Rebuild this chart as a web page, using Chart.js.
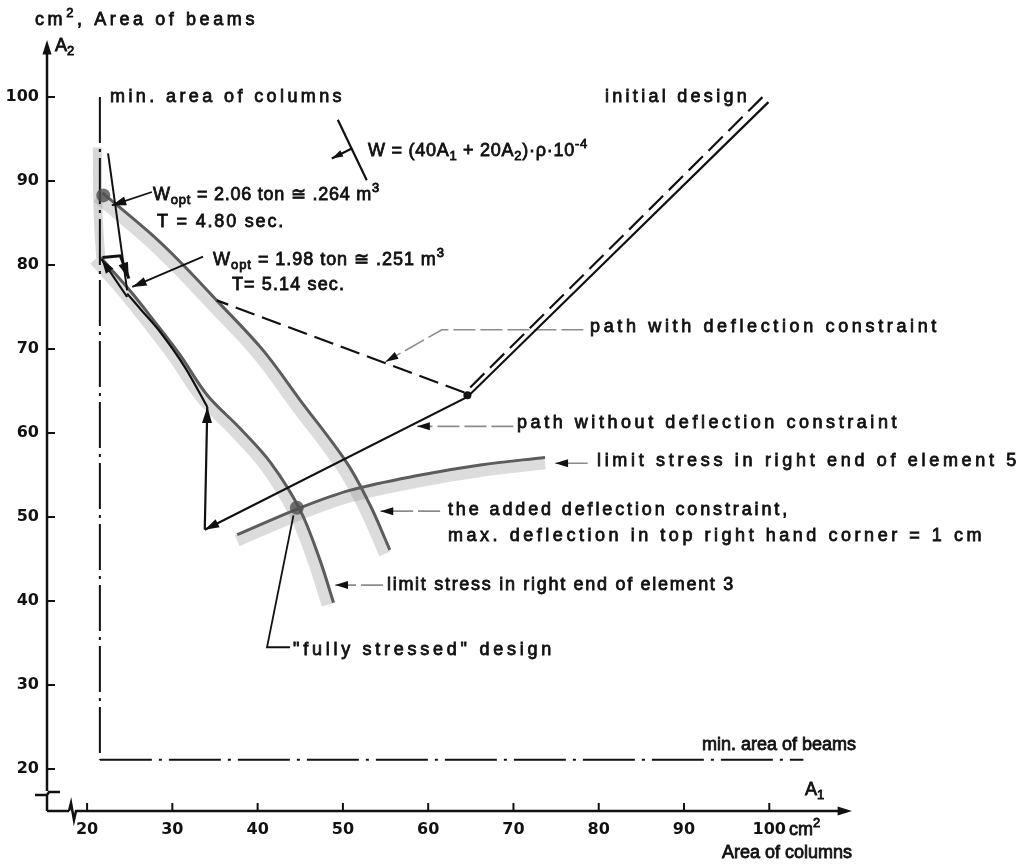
<!DOCTYPE html>
<html>
<head>
<meta charset="utf-8">
<script src="https://cdn.jsdelivr.net/npm/chart.js@4"></script>
<style>
  body { margin: 0; background: #fff; }
  #wrap { width: 1031px; height: 864px; }
</style>
</head>
<body>
<div id="wrap"><canvas id="designChart"></canvas></div>
<script>
// Axis ticks
const xTicks = [20, 30, 40, 50, 60, 70, 80, 90, 100];
const yTicks = [20, 30, 40, 50, 60, 70, 80, 90, 100];

// Constraint curves (A1 = area of columns, A2 = area of beams)
const stress3TopA1 = [21.2, 21.3, 21.6];
const stress3TopA2 = [94.0, 86.0, 80.9];
const stress3A1 = [21.6, 25.0, 28.2, 30.9, 34.1, 37.9, 41.5, 45.0, 47.3, 48.9];
const stress3A2 = [80.9, 77.0, 72.9, 69.3, 64.5, 60.6, 56.5, 50.8, 44.9, 39.8];
const deflA1 = [21.8, 27.4, 30.9, 35.2, 40.6, 45.0, 50.5, 53.2, 55.5];
const deflA2 = [88.6, 83.8, 80.4, 75.8, 69.9, 63.9, 56.4, 51.4, 46.1];
const stress5A1 = [37.6, 45.0, 50.9, 59.1, 66.1, 73.7];
const stress5A2 = [47.9, 51.1, 53.2, 55.0, 56.2, 57.1];

// Design paths
const pathNoDefA1 = [99.9, 64.6, 33.8];
const pathNoDefA2 = [99.4, 64.3, 48.5];
const pathUpA1 = [33.8, 34.1];
const pathUpA2 = [48.5, 63.1];
const pathAlongA1 = [34.1, 31.5, 28.6, 26.4, 24.7];
const pathAlongA2 = [63.1, 67.8, 72.0, 74.6, 76.6];
const pathDefA1 = [99.2, 64.3, 35.2];
const pathDefA2 = [100.0, 64.8, 75.8];
const upperStepA1 = [22.46, 24.7];
const upperStepA2 = [93.3, 77.0];
const stepBackA1 = [24.7, 21.7];
const stepBackA2 = [76.2, 80.7];
const stepOverA1 = [21.8, 23.9, 24.9];
const stepOverA2 = [80.9, 81.1, 78.4];

// Side constraints
const minColsA1 = [21.5, 21.5];
const minColsA2 = [100, 21.1];
const minBeamsA1 = [21.5, 104];
const minBeamsA2 = [21.1, 21.1];

// Weight contour direction
const wLineA1 = [49.4, 52.8];
const wLineA2 = [97.3, 90.1];
const wArrowA1 = [51.1, 48.7];
const wArrowA2 = [93.9, 92.7];

// Marked designs
const markA1 = [21.9, 44.6, 64.6];
const markA2 = [88.3, 51.1, 64.5];

// Label leaders
const leadWithA1 = [78.2, 61.6, 55.0];
const leadWithA2 = [72.3, 72.3, 68.5];
const leadWithoutA1 = [70.0, 58.7];
const leadWithoutA2 = [60.8, 60.8];
const leadS5A1 = [78.7, 74.9];
const leadS5A2 = [56.4, 56.4];
const leadDeflA1 = [61.4, 54.4];
const leadDeflA2 = [50.7, 50.7];
const leadS3A1 = [54.7, 49.1];
const leadS3A2 = [41.9, 41.9];
const leadFullyA1 = [43.8, 41.1, 44.2];
const leadFullyA2 = [34.5, 34.5, 50.2];
const leadW206A1 = [27.6, 22.9];
const leadW206A2 = [88.7, 87.1];
const leadW198A1 = [33.6, 25.3];
const leadW198A2 = [81.0, 77.4];

// Text: [text, left x, middle y, right x]
const notes = [
    ['cm^{2}, Area of beams', 35, 20, 258],
    ['A_{2}', 55, 46, 0],
    ['min. area of columns', 110, 97, 345],
    ['initial design', 605, 97, 750],
    ['W = (40A_{1} + 20A_{2})·ρ·10^{-4}', 368, 151, 588],
    ['W_{opt} = 2.06 ton ≅ .264 m^{3}', 153, 195, 380],
    ['T = 4.80 sec.', 157, 222, 285],
    ['W_{opt} = 1.98 ton ≅ .251 m^{3}', 213, 260, 445],
    ['T= 5.14 sec.', 232, 285, 345],
    ['path with deflection constraint', 590, 327, 940],
    ['path without deflection constraint', 517, 423, 900],
    ['limit stress in right end of element 5', 597, 461, 1020],
    ['the added deflection constraint,', 448, 510, 790],
    ['max. deflection in top right hand corner = 1 cm', 448, 536, 985],
    ['limit stress in right end of element 3', 387, 585, 735],
    ['"fully stressed" design', 293, 650, 555],
    ['min. area of beams', 702, 745, 838],
    ['A_{1}', 805, 790, 0],
    ['cm^{2}', 789, 830, 0],
    ['Area of columns', 722, 853, 832]
];

const pts = (xs, ys) => xs.map((x, i) => ({ x: x, y: ys[i] }));
const line = (xs, ys, style) => Object.assign({ data: pts(xs, ys), showLine: true, pointRadius: 0, fill: false, tension: 0 }, style);

const band = { borderColor: 'rgba(140,140,140,0.3)', borderWidth: 12, tension: 0.35, order: 4 };
const edge = { borderColor: '#5c5c5c', borderWidth: 3, tension: 0.35, order: 3 };
const ink = { borderColor: '#111', borderWidth: 2.2, order: 1 };
const leader = { borderColor: '#8c8c8c', borderWidth: 1.6, borderDash: [22, 5], order: 2, arrow: 8 };

const datasets = [
    line(stress3TopA1, stress3TopA2, Object.assign({}, band, { borderWidth: 9, borderColor: 'rgba(140,140,140,0.35)' })),
    line(stress3A1, stress3A2, Object.assign({}, band, { shift: [-6, 2] })),
    line(deflA1, deflA2, Object.assign({}, band, { shift: [-5, 4] })),
    line(stress5A1, stress5A2, Object.assign({}, band, { shift: [0, 6] })),
    line(stress3A1, stress3A2, edge),
    line(deflA1, deflA2, edge),
    line(stress5A1, stress5A2, edge),
    line(minColsA1, minColsA2, { borderColor: '#111', borderWidth: 2, borderDash: [46, 6, 3, 6], order: 2 }),
    line(minBeamsA1, minBeamsA2, { borderColor: '#111', borderWidth: 2, borderDash: [52, 7, 3, 7], order: 2 }),
    line(pathNoDefA1, pathNoDefA2, Object.assign({}, ink, { arrow: 9 })),
    line(pathUpA1, pathUpA2, Object.assign({}, ink, { arrow: 10 })),
    line(pathAlongA1, pathAlongA2, Object.assign({}, ink, { tension: 0.3 })),
    line(pathDefA1, pathDefA2, Object.assign({}, ink, { borderDash: [20, 8] })),
    line(upperStepA1, upperStepA2, Object.assign({}, ink, { borderWidth: 2 })),
    line(stepBackA1, stepBackA2, Object.assign({}, ink, { arrow: 9 })),
    line(stepOverA1, stepOverA2, Object.assign({}, ink, { borderWidth: 3, arrow: 10 })),
    line(wLineA1, wLineA2, Object.assign({}, ink)),
    line(wArrowA1, wArrowA2, Object.assign({}, ink, { arrow: 7 })),
    line(leadWithA1, leadWithA2, leader),
    line(leadWithoutA1, leadWithoutA2, leader),
    line(leadS5A1, leadS5A2, leader),
    line(leadDeflA1, leadDeflA2, leader),
    line(leadS3A1, leadS3A2, leader),
    line(leadFullyA1, leadFullyA2, Object.assign({}, ink, { borderWidth: 1.8 })),
    line(leadW206A1, leadW206A2, Object.assign({}, ink, { borderWidth: 1.8, arrow: 9 })),
    line(leadW198A1, leadW198A2, Object.assign({}, ink, { borderWidth: 1.8, arrow: 9 })),
    { data: pts(markA1, markA2), pointRadius: [7, 7, 4], pointBackgroundColor: ['rgba(80,80,80,0.8)', 'rgba(80,80,80,0.8)', '#111'], pointBorderWidth: 0, order: 0 }
];

// parse "_{..}" and "^{..}" into pieces
function pieces(str) {
    const out = [];
    const re = /([_^])\{([^}]*)\}/g;
    let last = 0, m;
    while ((m = re.exec(str))) {
        if (m.index > last) out.push({ t: str.slice(last, m.index), k: '' });
        out.push({ t: m[2], k: m[1] });
        last = re.lastIndex;
    }
    if (last < str.length) out.push({ t: str.slice(last), k: '' });
    return out;
}

const FONT = '"Liberation Sans", Arial, sans-serif';

function drawNote(ctx, text, x, y, right) {
    const parts = pieces(text);
    const fontFor = k => (k ? '13px ' : '18px ') + FONT;
    ctx.letterSpacing = '0px';
    let w = 0, n = 0;
    parts.forEach(p => { ctx.font = fontFor(p.k); w += ctx.measureText(p.t).width; n += p.t.length; });
    const sp = right > 0 ? Math.max(0, (right - x - w) / n) : 0;
    let cx = x;
    parts.forEach(p => {
        ctx.font = fontFor(p.k);
        ctx.letterSpacing = '0px';
        const pw = ctx.measureText(p.t).width;
        ctx.letterSpacing = sp + 'px';
        const dy = p.k === '_' ? 5 : p.k === '^' ? -7 : 0;
        ctx.fillText(p.t, cx, y + dy);
        ctx.strokeText(p.t, cx, y + dy);
        cx += pw + sp * p.t.length;
    });
    ctx.letterSpacing = '0px';
}

function arrowHead(ctx, x, y, ang, size) {
    ctx.save();
    ctx.translate(x, y);
    ctx.rotate(ang);
    ctx.beginPath();
    ctx.moveTo(0, 0);
    ctx.lineTo(-size * 1.6, -size * 0.5);
    ctx.lineTo(-size * 1.6, size * 0.5);
    ctx.closePath();
    ctx.fill();
    ctx.restore();
}

const sketchPlugin = {
    id: 'sketch',
    beforeDatasetDraw(chart, args) {
        const ds = chart.data.datasets[args.index];
        chart.ctx.save();
        if (ds.shift) chart.ctx.translate(ds.shift[0], ds.shift[1]);
    },
    afterDatasetDraw(chart) {
        chart.ctx.restore();
    },
    afterDatasetsDraw(chart) {
        const ctx = chart.ctx;
        ctx.save();
        ctx.fillStyle = '#111';
        chart.data.datasets.forEach((ds, i) => {
            if (!ds.arrow) return;
            const p = chart.getDatasetMeta(i).data;
            const a = p[p.length - 1], b = p[p.length - 2];
            arrowHead(ctx, a.x, a.y, Math.atan2(a.y - b.y, a.x - b.x), ds.arrow);
        });
        ctx.restore();
    },
    afterDraw(chart) {
        const ctx = chart.ctx;
        const { left, right, top, bottom } = chart.chartArea;
        const xs = chart.scales.x, ys = chart.scales.y;
        ctx.save();
        ctx.strokeStyle = '#111';
        ctx.fillStyle = '#111';
        ctx.lineWidth = 2.5;
        // x axis with break
        ctx.beginPath();
        ctx.moveTo(left, bottom); ctx.lineTo(69, bottom);
        ctx.moveTo(69, bottom); ctx.lineTo(71, bottom - 8); ctx.lineTo(74, bottom + 9); ctx.lineTo(76, bottom);
        ctx.lineTo(right - 12, bottom);
        // y axis with break
        ctx.moveTo(left, bottom); ctx.lineTo(left, bottom - 15);
        ctx.moveTo(35, bottom - 16); ctx.lineTo(left, bottom - 16); ctx.lineTo(left + 2, bottom - 19); ctx.lineTo(60, bottom - 19);
        ctx.moveTo(left, bottom - 20); ctx.lineTo(left, top + 12);
        ctx.stroke();
        arrowHead(ctx, right, bottom, 0, 9);
        arrowHead(ctx, left, top, -Math.PI / 2, 9);
        // inner tick marks
        ctx.lineWidth = 2;
        ctx.beginPath();
        xTicks.forEach(v => { const px = xs.getPixelForValue(v); ctx.moveTo(px, bottom); ctx.lineTo(px, bottom - 8); });
        yTicks.forEach(v => { const py = ys.getPixelForValue(v); ctx.moveTo(left, py); ctx.lineTo(left + 8, py); });
        ctx.stroke();
        // texts
        ctx.textBaseline = 'middle';
        ctx.textAlign = 'left';
        ctx.lineWidth = 0.8;
        notes.forEach(n => drawNote(ctx, n[0], n[1], n[2], n[3]));
        ctx.restore();
    }
};

const tickFont = { family: '"DejaVu Sans"', size: 16, weight: 'bold' };

new Chart(document.getElementById('designChart').getContext('2d'), {
    type: 'scatter',
    data: { datasets: datasets },
    options: {
        responsive: true,
        maintainAspectRatio: false,
        animation: false,
        layout: { padding: { left: 0, top: 40, right: 179, bottom: 0 } },
        plugins: { legend: { display: false }, tooltip: { enabled: false } },
        scales: {
            x: {
                type: 'linear',
                min: 15.3,
                max: 109.7,
                afterFit: s => { s.height = 53; },
                afterBuildTicks: s => { s.ticks = xTicks.map(v => ({ value: v })); },
                grid: { display: false, drawTicks: false },
                border: { display: false },
                ticks: { padding: 9, color: '#111', font: tickFont }
            },
            y: {
                type: 'linear',
                min: 15,
                max: 106.8,
                afterFit: s => { s.width = 47; },
                afterBuildTicks: s => { s.ticks = yTicks.map(v => ({ value: v })); },
                grid: { display: false, drawTicks: false },
                border: { display: false },
                ticks: { padding: 8, color: '#111', font: tickFont }
            }
        }
    },
    plugins: [sketchPlugin]
});
</script>
</body>
</html>
